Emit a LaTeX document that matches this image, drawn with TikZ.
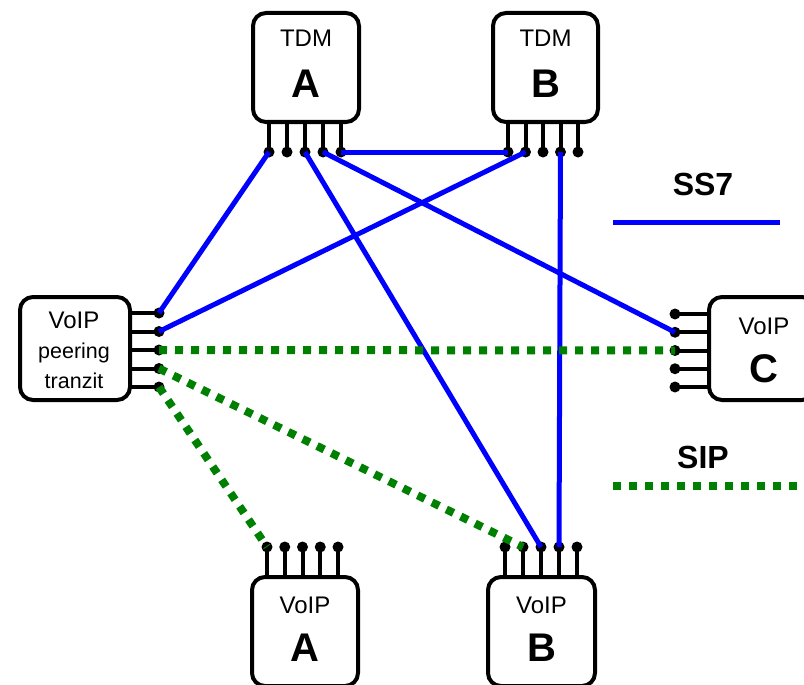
\documentclass[tikz,border=0pt]{standalone}
\usepackage{fontspec}
\setmainfont{Liberation Sans}
\usetikzlibrary{positioning}
\tikzset{
  unit/.style={draw, line width=4pt, rounded corners=13pt, fill=white,
    minimum width=106pt, minimum height=109pt, inner sep=0pt},
  lbl/.style={font=\fontsize{24}{28}\selectfont, anchor=base},
  sml/.style={font=\fontsize{21.5}{25}\selectfont, anchor=base},
  big/.style={font=\fontsize{40}{46}\selectfont\bfseries, anchor=base},
  leg/.style={font=\fontsize{32}{36}\selectfont\bfseries, anchor=base},
  pin/.style={line width=4pt},
  ss7/.style={blue, line width=5pt},
  sip/.style={green!50!black, line width=8pt, dash pattern=on 8pt off 8pt},
}

\begin{document}
\begin{tikzpicture}[x=1pt, y=-1pt]
  \clip (0,0) rectangle (804,685);
  % pins of the TDM switches
  \foreach \i in {1,...,5} {
    \coordinate (tdmA\i) at (251+18*\i,152);
    \draw[pin] (tdmA\i) -- ++(0,-32);
    \fill (tdmA\i) circle (5.5pt);
    \coordinate (tdmB\i) at (490.5+17.5*\i,152);
    \draw[pin] (tdmB\i) -- ++(0,-32);
    \fill (tdmB\i) circle (5.5pt);
  }
  % pins of the VoIP boxes
  \foreach \i in {1,...,5} {
    \coordinate (peer\i) at (159,294.5+18.5*\i);
    \draw[pin] (peer\i) -- ++(-32,0);
    \fill (peer\i) circle (5.5pt);
    \coordinate (voipC\i) at (675,295.75+18.25*\i);
    \draw[pin] (voipC\i) -- ++(36,0);
    \fill (voipC\i) circle (5.5pt);
    \coordinate (voipA\i) at (249.25+17.75*\i,547);
    \draw[pin] (voipA\i) -- ++(0,32);
    \fill (voipA\i) circle (5.5pt);
    \coordinate (voipB\i) at (487+18*\i,547);
    \draw[pin] (voipB\i) -- ++(0,32);
    \fill (voipB\i) circle (5.5pt);
  }
  % TDM A and B
  \node[unit] (tdmA) at (306,67.5) {};
  \node[lbl] (tdmAt) at (306,47) {TDM};
  \node[big] (tdmAn) at (306,98) {A};
  \node[unit, minimum width=105pt] (tdmB) at (545.5,67.5) {};
  \node[lbl] (tdmBt) at (545.5,47) {TDM};
  \node[big] (tdmBn) at (545.5,98) {B};
  % VoIP peering / tranzit
  \node[unit, minimum width=110pt, minimum height=103pt] (peer) at (75,348.5) {};
  \node[lbl] (peert) at (74,328) {VoIP};
  \node[sml] (peerp) at (74,358) {peering};
  \node[sml] (peerz) at (74,388) {tranzit};
  % VoIP C
  \node[unit, minimum height=103pt] (voipC) at (762,348.5) {};
  \node[lbl] (voipCt) at (764,334) {VoIP};
  \node[big] (voipCn) at (764,382) {C};
  % VoIP A and B
  \node[unit] (voipA) at (305,631.5) {};
  \node[lbl] (voipAt) at (305,613) {VoIP};
  \node[big] (voipAn) at (305,661) {A};
  \node[unit, minimum width=107pt] (voipB) at (541.5,631.5) {};
  \node[lbl] (voipBt) at (541.5,613) {VoIP};
  \node[big] (voipBn) at (541.5,661) {B};
  % SS7 links
  \draw[ss7] (tdmA1) -- (peer1);
  \draw[ss7] (tdmA3) -- (voipB3);
  \draw[ss7] (tdmA4) -- (voipC2);
  \draw[ss7] (tdmA5) -- (tdmB1);
  \draw[ss7] (tdmB2) -- (peer2);
  \draw[ss7] (tdmB4) -- (voipB4);
  % SIP links
  \draw[sip] (peer3) -- (voipC3);
  \draw[sip] (peer4) -- (voipB2);
  \draw[sip] (peer5) -- (voipA1);
  % legend
  \node[leg] (ss7t) at (703,195) {SS7};
  \coordinate (ss7a) at (613,222);
  \coordinate (ss7b) at (780,222);
  \draw[ss7] (ss7a) -- (ss7b);
  \node[leg] (sipt) at (703,468) {SIP};
  \coordinate (sipa) at (613,486);
  \coordinate (sipb) at (804,486);
  \draw[sip] (sipa) -- (sipb);
\end{tikzpicture}
\end{document}
